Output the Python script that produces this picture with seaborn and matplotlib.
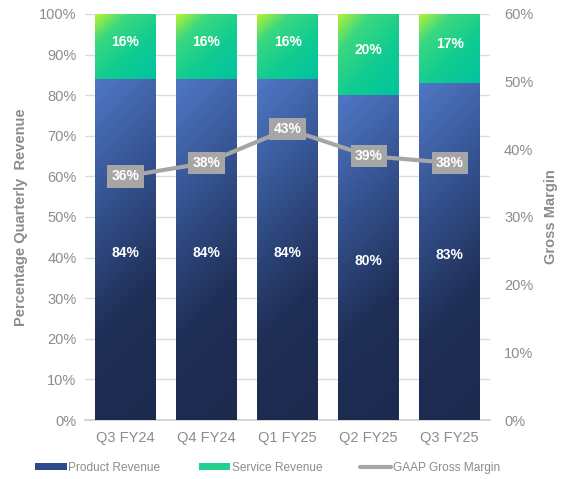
import numpy as np
import pandas as pd
import matplotlib
matplotlib.use("Agg")
import matplotlib.pyplot as plt
import seaborn as sns
from matplotlib.colors import LinearSegmentedColormap
from matplotlib.patches import Patch
from matplotlib.lines import Line2D

quarters = ["Q3 FY24", "Q4 FY24", "Q1 FY25", "Q2 FY25", "Q3 FY25"]
product_pct = [84, 84, 84, 80, 83]
service_pct = [16, 16, 16, 20, 17]
gross_margin = [36, 38, 43, 39, 38]

sns.set_theme(style="white")
plt.rcParams['font.family'] = ['Liberation Sans', 'DejaVu Sans']

df = pd.DataFrame({"quarter": quarters, "product": product_pct,
                   "service": service_pct, "margin": gross_margin})
df["total"] = df["product"] + df["service"]

fig = plt.figure(figsize=(5.7, 4.79), dpi=100)
ax = fig.add_axes([0.149, 0.123, 0.711, 0.848])

tick_col = "#8c8c8c"
grid_col = "#dcdcdc"

sns.barplot(data=df, x="quarter", y="total", color="#10cc90", width=0.75,
            ax=ax, saturation=1, zorder=2)
n_total = len(ax.patches)
sns.barplot(data=df, x="quarter", y="product", color="#2f4a8a", width=0.75,
            ax=ax, saturation=1, zorder=3)

prod_cmap = LinearSegmentedColormap.from_list("p", ["#5077c6", "#34528f", "#1f2e55", "#1c2a4e"])
serv_cmap = LinearSegmentedColormap.from_list(
    "s", [(0.0, "#b8f236"), (0.25, "#3ad880"), (0.6, "#12cc90"), (1.0, "#00c4a0")])

def grad_fill(patch, cmap, z, wy, wx):
    x0, y0 = patch.get_x(), patch.get_y()
    w, h = patch.get_width(), patch.get_height()
    xx, yy = np.meshgrid(np.linspace(0, 1, 60), np.linspace(0, 1, 200))
    g = yy * wy + xx * wx
    g = (g - g.min()) / (g.max() - g.min())
    im = ax.imshow(g, cmap=cmap, extent=[x0, x0 + w, y0, y0 + h], origin="upper",
                   aspect="auto", zorder=z, interpolation="bilinear")
    im.set_clip_path(patch)
    patch.set_facecolor("none")
    patch.set_edgecolor("none")

for i, p in enumerate(ax.patches):
    if i < n_total:
        p.set_y(product_pct[i])
        p.set_height(service_pct[i])
        grad_fill(p, serv_cmap, 2, 0.55, 0.45)
    else:
        grad_fill(p, prod_cmap, 3, 0.85, 0.15)

ax.set_xlim(-0.5, len(quarters) - 0.5)
ax.set_ylim(0, 100)
ax.set_yticks(range(0, 101, 10))
ax.set_yticklabels([f"{v}%" for v in range(0, 101, 10)], color=tick_col, fontsize=10.5)
ax.tick_params(axis="x", colors=tick_col, labelsize=10.5, length=0, pad=8)
ax.tick_params(axis="y", length=0, pad=6)
ax.yaxis.grid(True, color=grid_col, linewidth=1)
ax.set_axisbelow(True)
for s in ["top", "right", "left"]:
    ax.spines[s].set_visible(False)
ax.spines["bottom"].set_color("#d0d0d0")
ax.set_xlabel("")
ax.set_ylabel("Percentage Quarterly  Revenue", color=tick_col, fontsize=10.5,
              fontweight="bold", labelpad=8)

for i in range(len(quarters)):
    ax.text(i, product_pct[i] * 0.49, f"{product_pct[i]}%", ha="center", va="center",
            color="white", fontsize=10, fontweight="bold", zorder=6)
    ax.text(i, product_pct[i] + service_pct[i] / 2 + 1, f"{service_pct[i]}%", ha="center",
            va="center", color="white", fontsize=10, fontweight="bold", zorder=6)

ax2 = ax.twinx()
sns.lineplot(x=list(range(len(quarters))), y=gross_margin, ax=ax2, color="#a6a6a6",
             linewidth=3, zorder=5)
ax2.set_ylim(0, 60)
ax2.set_yticks(range(0, 61, 10))
ax2.set_yticklabels([f"{v}%" for v in range(0, 61, 10)], color=tick_col, fontsize=10.5)
ax2.tick_params(axis="y", length=0, pad=10)
for s in ["top", "right", "left", "bottom"]:
    ax2.spines[s].set_visible(False)
ax2.grid(False)
ax2.set_ylabel("Gross Margin", color=tick_col, fontsize=10.5, fontweight="bold", labelpad=8)
for i, v in enumerate(gross_margin):
    ax2.text(i, v, f"{v}%", ha="center", va="center", color="white", fontsize=10,
             fontweight="bold", zorder=7,
             bbox=dict(boxstyle="square,pad=0.3", facecolor="#a6a6a6", edgecolor="none"))

handles = [Patch(facecolor="#2f4a8a", edgecolor="none"),
           Patch(facecolor="#20d08c", edgecolor="none"),
           Line2D([0], [0], color="#a6a6a6", linewidth=3)]
labels = ["Product Revenue", "Service Revenue", "GAAP Gross Margin"]
fig.legend(handles, labels, loc="center", bbox_to_anchor=(0.47, 0.024), ncol=3,
           frameon=False, fontsize=8.6, labelcolor=tick_col, handlelength=2.6,
           handleheight=0.6, handletextpad=0.15, columnspacing=3.2)

fig.savefig("out.png", dpi=100)
